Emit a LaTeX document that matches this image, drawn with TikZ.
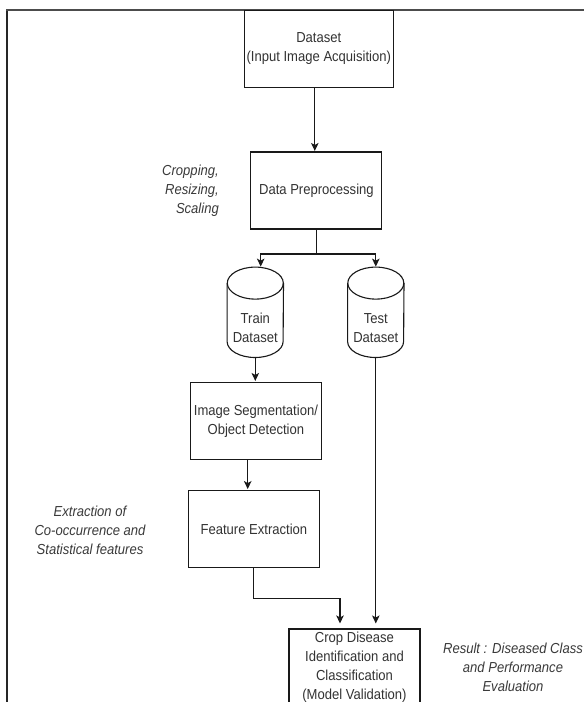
\documentclass[tikz,border=0pt]{standalone}
\usepackage{fontspec}
\setmainfont{Liberation Sans}[FakeStretch=0.9]
\usetikzlibrary{arrows.meta}
\definecolor{txt}{HTML}{333333}
\definecolor{lbl}{HTML}{3A3A3A}
\tikzset{
  base/.style={font=\fontsize{14.5}{19}\selectfont, text=txt, align=center, inner sep=0pt},
  procbox/.style={base, draw=black!90, line width=1.1pt, minimum width=131pt, minimum height=77pt},
  cylbody/.style={base, minimum width=56pt, minimum height=58pt},
  cylline/.style={draw=black!90, line width=1.1pt},
  note/.style={base, text=lbl, font=\fontsize{14.5}{19}\selectfont\itshape},
  conn/.style={draw=black!90, line width=1.1pt},
  arr/.style={conn, -{Stealth[length=8pt,width=7.5pt,inset=2pt]}}
}
\begin{document}
\begin{tikzpicture}[x=1pt,y=1pt]
\useasboundingbox (0,0) rectangle (584,-702);
\fill[white] (0,0) rectangle (584,-702);
\begin{scope}
\clip (0,0) rectangle (584,-702);
% outer frame (cut by the page edges)
\draw[black!85, line width=1.3pt] (7,-710) -- (7,-10);
\draw[black!70, line width=1.3pt] (6.35,-10) -- (590,-10);

% nodes
\node[procbox, minimum width=149pt] (dataset) at (318.8,-48.7) {Dataset\\(Input Image Acquisition)};
\node[procbox] (dp) at (316.4,-190.5) {Data Preprocessing};
\node[cylbody] (train) at (255.3,-328.3) {Train\\Dataset};
\node[cylbody] (test) at (375.8,-328.3) {Test\\Dataset};
\node[procbox] (seg) at (255.9,-421) {Image Segmentation/\\Object Detection};
\node[procbox] (feat) at (253.9,-529.1) {Feature Extraction};
\node[procbox, minimum width=131pt] (crop) at (354.5,-667.5) {Crop Disease\\Identification and\\Classification\\(Model Validation)};

% cylinder outlines
\foreach \c in {train,test}{
  \draw[cylline, fill=white] ([yshift=16pt]\c.north west) -- ([yshift=16pt]\c.south west)
     arc[start angle=180, end angle=360, x radius=28pt, y radius=16pt]
     -- ([yshift=16pt]\c.north east);
  \draw[cylline] ([yshift=16pt]\c.north) ellipse [x radius=28pt, y radius=16pt];
}
\node[cylbody] at (train) {Train\\Dataset};
\node[cylbody] at (test) {Test\\Dataset};

% labels
\node[note, anchor=east, align=right] (lcrop) at (219,-190.5) {Cropping,\\Resizing,\\Scaling};
\node[note] (lfeat) at (90,-530) {Extraction of\\Co-occurrence and\\Statistical features};
\node[note] (lres) at (513,-667) {Result : Diseased Class\\and Performance\\Evaluation};

% connectors
\coordinate (dsout) at ([xshift=-4pt]dataset.south);
\draw[arr, shorten >=0.5pt] (dsout) -- (dsout |- dp.north);
\coordinate (split) at (dp.south |- 0,-254);
\coordinate (trainTop) at ([xshift=5.4pt,yshift=32pt]train.north);
\coordinate (testTop) at ([yshift=32pt]test.north);
\draw[conn] (dp.south) -- (split);
\draw[arr, shorten >=0.5pt] (split) -| (trainTop);
\draw[arr, shorten >=0.5pt] (split) -| (testTop);
\draw[arr, shorten >=1pt] (train.south) -- (train.south |- seg.north);
\coordinate (segout) at ([xshift=-8.2pt]seg.south);
\draw[arr, shorten >=1pt] (segout) -- (segout |- feat.north);
\coordinate (fy) at (0,-598.3);
\coordinate (cropinL) at ([xshift=-14.5pt]crop.north);
\draw[arr, shorten >=5pt] (feat.south) -- (feat.south |- fy) -| (cropinL);
\draw[arr, shorten >=5pt] (test.south) -- (test.south |- crop.north);
\end{scope}
\end{tikzpicture}
\end{document}
